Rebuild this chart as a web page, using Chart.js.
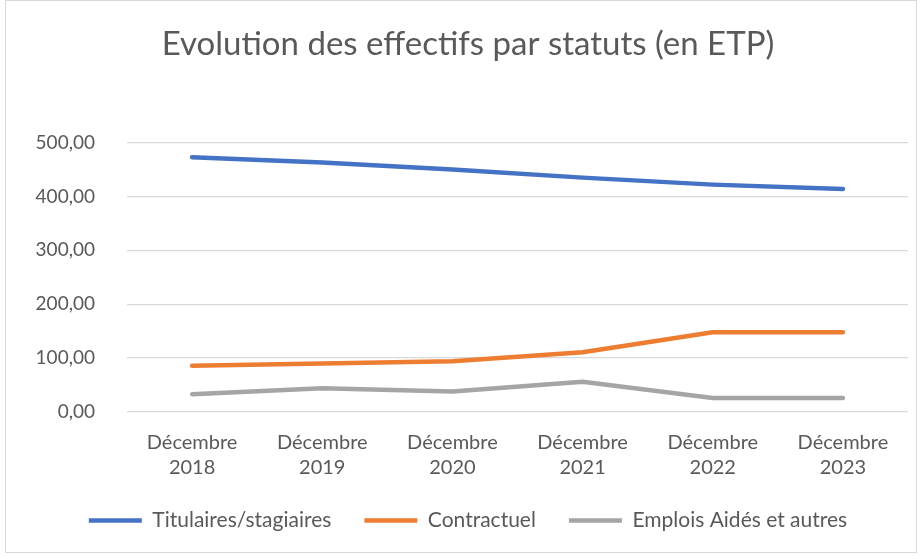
<!DOCTYPE html>
<html>
<head>
<meta charset="utf-8">
<script src="https://cdn.jsdelivr.net/npm/chart.js@4"></script>
<style>
  html, body { margin: 0; padding: 0; background: #fff; }
  .frame {
    position: absolute; left: 5px; top: 0; width: 912px; height: 553px;
    border: 1px solid #d9d9d9; box-sizing: border-box; background: #fff;
  }
  .frame canvas { display: block; }
</style>
</head>
<body>
<div class="frame"><canvas id="effectifsChart" width="910" height="551"></canvas></div>
<script>
// chart data
const years = ['2018', '2019', '2020', '2021', '2022', '2023'];
const categories = years.map(y => ['Décembre', y]);
const titulaires = [473, 463, 450, 435, 422, 414];
const contractuels = [86, 90, 94, 111, 148, 148];
const emploisAides = [33, 44, 38, 56, 26, 26];
const yTicks = [0, 100, 200, 300, 400, 500];

const textColor = '#595959';
const fontFamily = 'Lato, "Open Sans", sans-serif';
const lineW = 4.5;

const ctx = document.getElementById('effectifsChart').getContext('2d');
new Chart(ctx, {
  type: 'line',
  data: {
    labels: categories,
    datasets: [
      { label: 'Titulaires/stagiaires', data: titulaires, borderColor: '#4472C4', backgroundColor: '#4472C4', borderWidth: lineW },
      { label: 'Contractuel', data: contractuels, borderColor: '#ED7D31', backgroundColor: '#ED7D31', borderWidth: lineW },
      { label: 'Emplois Aidés et autres', data: emploisAides, borderColor: '#A5A5A5', backgroundColor: '#A5A5A5', borderWidth: lineW }
    ]
  },
  options: {
    responsive: false,
    animation: false,
    layout: { padding: { left: 22, right: 8, top: 24, bottom: 11 } },
    elements: {
      line: { tension: 0, borderCapStyle: 'round', borderJoinStyle: 'round' },
      point: { radius: 0, hoverRadius: 0 }
    },
    scales: {
      x: {
        offset: true,
        grid: { display: false, drawTicks: false },
        border: { display: false },
        ticks: { color: textColor, font: { family: fontFamily, size: 20, lineHeight: 1.25 }, maxRotation: 0, autoSkip: false, padding: 18 },
        // let the legend's top padding overlap the label block
        afterFit: (axis) => { axis.height -= 21; }
      },
      y: {
        min: 0,
        max: 500,
        afterBuildTicks: (axis) => { axis.ticks = yTicks.map(v => ({ value: v })); },
        afterFit: (axis) => { axis.width = 99; },
        grid: { color: '#D9D9D9', lineWidth: 1.3, drawTicks: false },
        border: { display: false },
        ticks: {
          color: textColor,
          font: { family: fontFamily, size: 19 },
          padding: 32,
          callback: (v) => v.toFixed(2).replace('.', ',')
        }
      }
    },
    plugins: {
      title: {
        display: true,
        text: 'Evolution des effectifs par statuts (en ETP)',
        color: textColor,
        font: { family: fontFamily, size: 33, weight: 'normal' },
        padding: { top: 0, bottom: 78 }
      },
      legend: {
        position: 'bottom',
        labels: {
          color: textColor,
          font: { family: fontFamily, size: 21 },
          usePointStyle: true,
          pointStyle: 'line',
          pointStyleWidth: 53,
          padding: 33
        }
      },
      tooltip: { enabled: false }
    }
  }
});
</script>
</body>
</html>
